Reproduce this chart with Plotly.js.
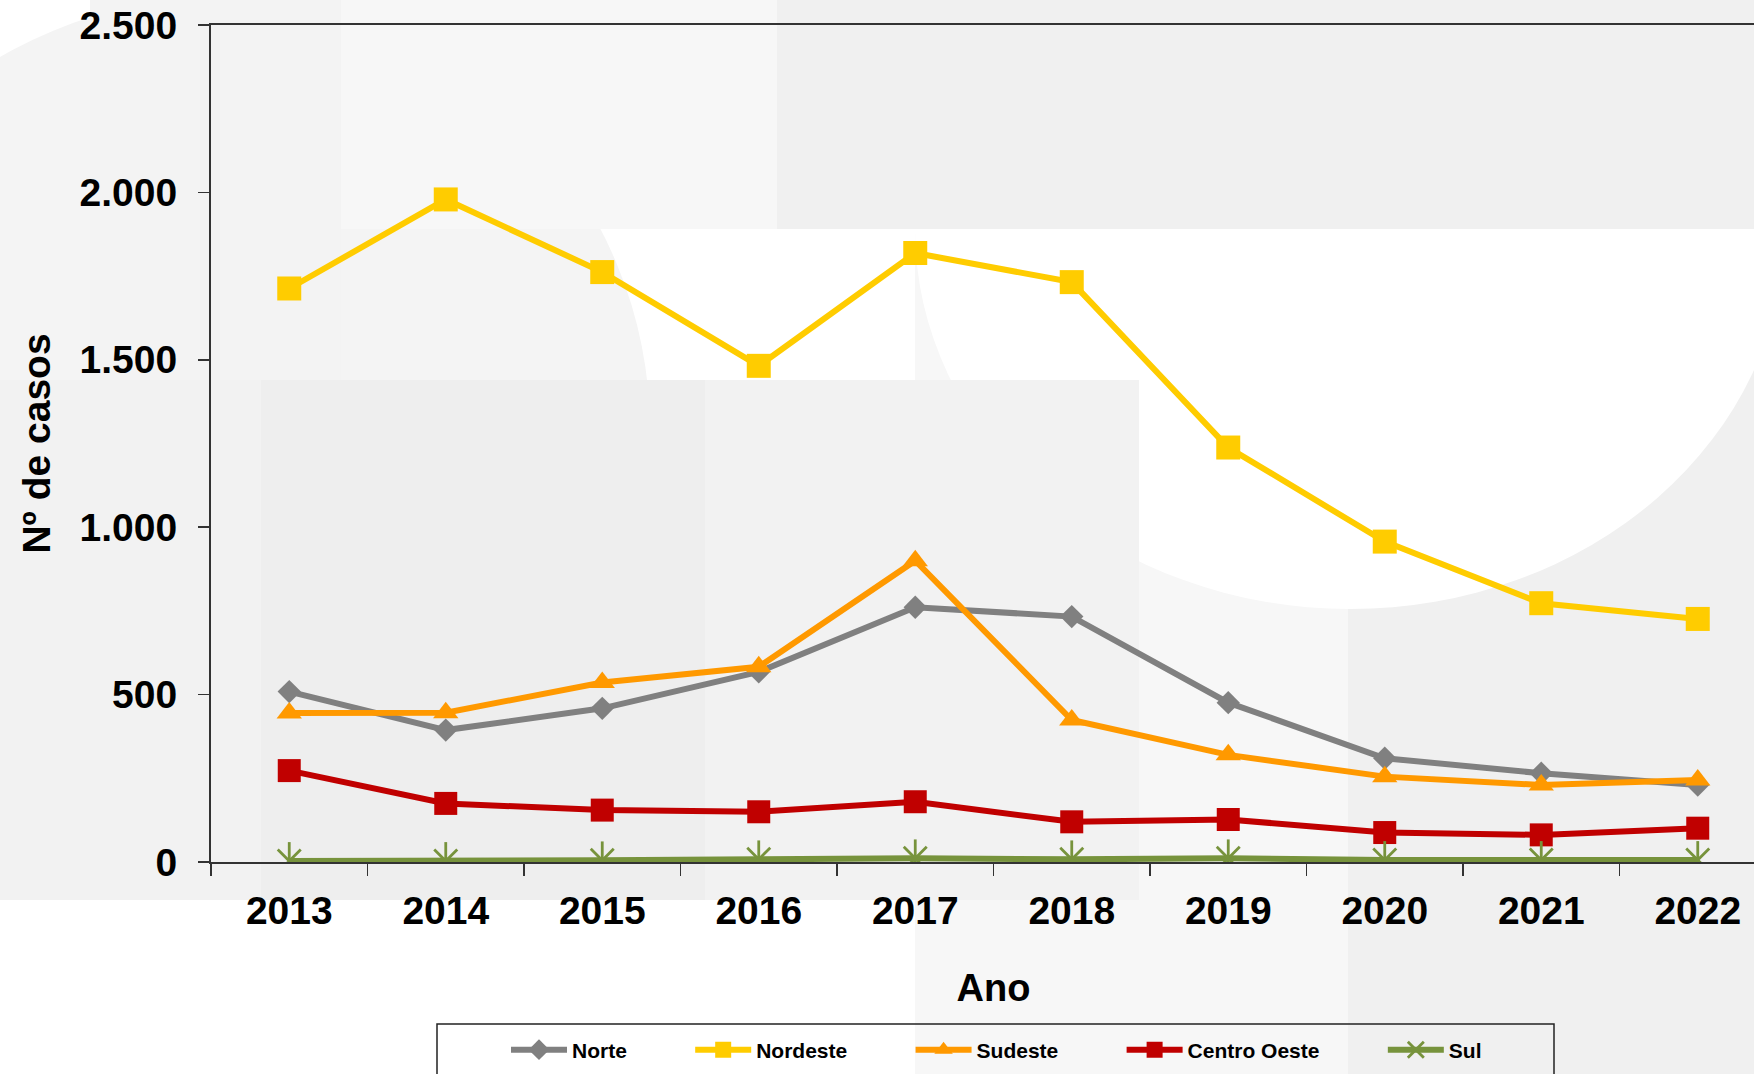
<!DOCTYPE html>
<html>
<head>
<meta charset="utf-8">
<script src="https://cdn.plot.ly/plotly-3.0.1.min.js"></script>
<style>
html,body{margin:0;padding:0;overflow:hidden;background:#fff;}
#chart{width:1780px;height:1074px;}
</style>
</head>
<body>
<div id="chart"></div>
<script>
// ---- data ----
const years = ['2013','2014','2015','2016','2017','2018','2019','2020','2021','2022'];
const norte = [509, 394, 459, 568, 761, 733, 476, 310, 265, 230];
const nordeste = [1713, 1979, 1762, 1482, 1819, 1732, 1238, 957, 773, 726];
const sudeste = [445, 446, 536, 583, 900, 424, 320, 255, 230, 245];
const centroOeste = [273, 175, 155, 150, 180, 120, 127, 88, 81, 101];
const sul = [3, 3, 5, 8, 11, 8, 11, 6, 6, 6];
const seriesNames = ['Norte', 'Nordeste', 'Sudeste', 'Centro Oeste', 'Sul'];

// ---- layout geometry (pixels) ----
const W = 1780, H = 1074;
const M = {l: 211, r: 4, t: 25, b: 212};
const PW = W - M.l - M.r, PH = H - M.t - M.b;
const px = x => (x - M.l) / PW;
const py = y => (H - M.b - y) / PH;

const FONT = 'Liberation Sans, Arial, sans-serif';
const NB = '\u00a0'.repeat(10);

function mk(name, y, color, symbol, size, lw) {
  return {
    type: 'scatter', mode: 'lines+markers', name: name + NB,
    x: years, y: y,
    line: {color: color, width: 6},
    marker: {color: color, symbol: symbol, size: size, line: {color: color, width: lw || 0}},
    hoverinfo: 'x+y'
  };
}

const sulStar = {
  type: 'scatter', mode: 'markers', showlegend: false,
  x: years, y: sul,
  marker: {color: '#77933C', symbol: 'line-ns-open', size: 27, line: {color: '#77933C', width: 2.8}},
  hoverinfo: 'skip'
};

const traces = [
  mk(seriesNames[0], norte, '#808080', 'diamond', 18),
  mk(seriesNames[1], nordeste, '#FFCC00', 'square', 24),
  mk(seriesNames[2], sudeste, '#FF9900', 'triangle-up', 22),
  mk(seriesNames[3], centroOeste, '#C00000', 'square', 23),
  mk(seriesNames[4], sul, '#77933C', 'x-thin-open', 23, 2.8),
  sulStar
];

function rect(x0, y0, x1, y1, fill, op) {
  return {type: 'rect', xref: 'paper', yref: 'paper', layer: 'below',
    x0: px(x0), x1: px(x1), y0: py(y1), y1: py(y0),
    fillcolor: fill, opacity: op == null ? 1 : op, line: {width: 0}};
}
function ell(x0, y0, x1, y1, fill, op) {
  return {type: 'circle', xref: 'paper', yref: 'paper', layer: 'below',
    x0: px(x0), x1: px(x1), y0: py(y1), y1: py(y0),
    fillcolor: fill, opacity: op == null ? 1 : op, line: {width: 0}};
}

const shapes = [
  ell(-214, -2, 650, 862, '#f4f4f4'),
  rect(90, 0, 341, 830, '#f3f3f3'),
  rect(0, 380, 261, 900, '#f2f2f2'),
  rect(915, 229, 1348, 1074, '#f7f7f7'),
  rect(1348, 229, 1780, 1074, '#f0f0f0'),
  ell(915, -151, 1785, 609, '#ffffff'),
  rect(261, 380, 705, 900, '#eeeeee'),
  rect(705, 380, 1139, 900, '#f2f2f2'),
  rect(341, 0, 777, 229, '#f7f7f7'),
  rect(777, 0, 1780, 229, '#f0f0f0'),
  // legend frame
  {type: 'rect', xref: 'paper', yref: 'paper', layer: 'above',
   x0: px(437), x1: px(1554), y0: py(1090), y1: py(1024),
   fillcolor: 'rgba(0,0,0,0)', line: {color: '#222222', width: 1.5}}
];

const layout = {
  width: W, height: H,
  margin: M,
  paper_bgcolor: '#ffffff',
  plot_bgcolor: 'rgba(0,0,0,0)',
  separators: ',.',
  font: {family: FONT, color: '#000000', weight: 'bold'},
  showlegend: true,
  legend: {
    orientation: 'h', x: px(506), xanchor: 'left', y: py(1050), yanchor: 'middle',
    font: {family: FONT, size: 21, color: '#000', weight: 'bold'},
    bgcolor: 'rgba(0,0,0,0)', borderwidth: 0, itemwidth: 56
  },
  xaxis: {
    type: 'category', categoryorder: 'array', categoryarray: years,
    range: [-0.5, 9.5],
    showgrid: false, zeroline: false,
    showline: true, linecolor: '#333333', linewidth: 2, mirror: true,
    ticks: 'outside', tickson: 'boundaries', ticklen: 12, tickcolor: '#333333', tickwidth: 1.5,
    tickfont: {family: FONT, size: 39, color: '#000', weight: 'bold'},
    ticklabelstandoff: 13,
    title: {text: 'Ano', font: {family: FONT, size: 38, color: '#000', weight: 'bold'}, standoff: 44}
  },
  yaxis: {
    range: [0, 2500], dtick: 500, tick0: 0, tickformat: ',d',
    showgrid: false, zeroline: false,
    showline: true, linecolor: '#333333', linewidth: 2,
    ticks: 'outside', ticklen: 11, tickcolor: '#333333', tickwidth: 1.5,
    tickfont: {family: FONT, size: 39, color: '#000', weight: 'bold'},
    ticklabelstandoff: 13,
    title: {text: 'Nº de casos', font: {family: FONT, size: 39, color: '#000', weight: 'bold'}, standoff: 17}
  },
  shapes: shapes
};

Plotly.newPlot('chart', traces, layout, {displayModeBar: false, staticPlot: true});
</script>
</body>
</html>
